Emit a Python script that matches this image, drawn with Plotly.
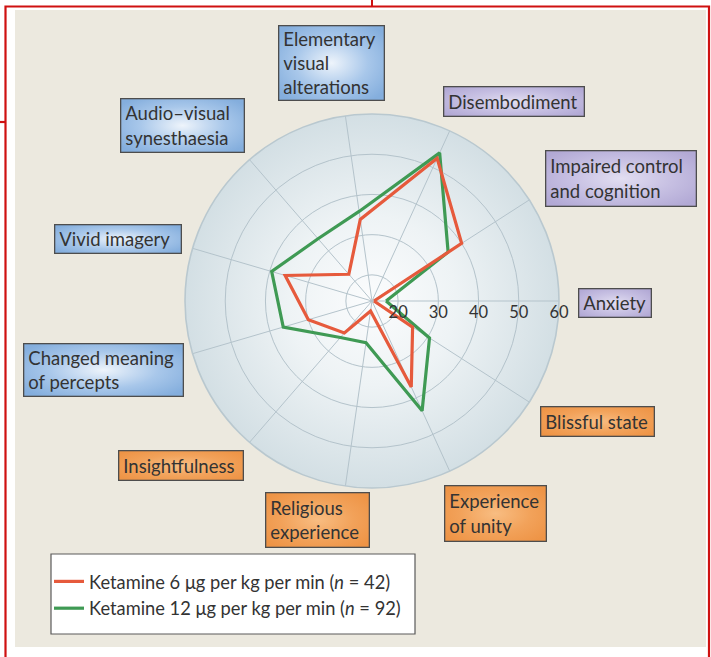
import base64
import plotly.graph_objects as go

# ---- data -------------------------------------------------------------
categories = [
    "Anxiety",
    "Impaired control and cognition",
    "Disembodiment",
    "Elementary visual alterations",
    "Audio–visual synesthaesia",
    "Vivid imagery",
    "Changed meaning of percepts",
    "Insightfulness",
    "Religious experience",
    "Experience of unity",
    "Blissful state",
]
ketamine_6 = [14, 40, 52.5, 34, 22.3, 36, 30, 24, 16, 37, 25.5]
ketamine_12 = [17, 36, 54, 36, 34, 39.5, 36.5, 25.5, 24, 43.5, 30.5]
series_names = [
    "Ketamine 6 μg per kg per min (<i>n</i> = 42)",
    "Ketamine 12 μg per kg per min (<i>n</i> = 92)",
]
radial_ticks = [20, 30, 40, 50, 60]
radial_range = [13.5, 60]

# label text (with line breaks) and colour group for every category
label_text = {
    "Anxiety": "Anxiety",
    "Impaired control and cognition": "Impaired control<br>and cognition",
    "Disembodiment": "Disembodiment",
    "Elementary visual alterations": "Elementary<br>visual<br>alterations",
    "Audio–visual synesthaesia": "Audio–visual<br>synesthaesia",
    "Vivid imagery": "Vivid imagery",
    "Changed meaning of percepts": "Changed meaning<br>of percepts",
    "Insightfulness": "Insightfulness",
    "Religious experience": "Religious<br>experience",
    "Experience of unity": "Experience<br>of unity",
    "Blissful state": "Blissful state",
}
label_group = {
    "Anxiety": "purple", "Impaired control and cognition": "purple",
    "Disembodiment": "purple",
    "Elementary visual alterations": "blue", "Audio–visual synesthaesia": "blue",
    "Vivid imagery": "blue", "Changed meaning of percepts": "blue",
    "Insightfulness": "orange", "Religious experience": "orange",
    "Experience of unity": "orange", "Blissful state": "orange",
}

# ---- layout geometry (pixels) ----------------------------------------
W, H = 711, 657
CX, CY, R = 372, 301, 187  # polar centre and radius

label_boxes = {  # x0, y0, x1, y1
    "Elementary visual alterations": (278, 25, 385, 101),
    "Disembodiment": (443, 86, 585, 117),
    "Impaired control and cognition": (545, 150, 697, 207),
    "Anxiety": (578, 288, 652, 318),
    "Blissful state": (540, 406, 655, 437),
    "Experience of unity": (444, 485, 547, 542),
    "Religious experience": (265, 492, 370, 548),
    "Insightfulness": (118, 450, 244, 481),
    "Changed meaning of percepts": (23, 343, 184, 397),
    "Vivid imagery": (54, 224, 182, 254),
    "Audio–visual synesthaesia": (120, 98, 245, 153),
}
gradients = {
    "blue": ("#eef4fb", "#a8c7ea", "#84aedd"),
    "purple": ("#e2def1", "#c6bfe2", "#b2a9d5"),
    "orange": ("#f8bd82", "#f2a25a", "#ee9446"),
}

RED = "#e65a3c"
GREEN = "#3f9a54"
GRID = "#b4c3cb"
TEXT = "#333333"
FONT = "Lato"


def fx(px):
    return px / W


def fy(py):
    return 1 - py / H


def svg_uri(svg):
    return "data:image/svg+xml;base64," + base64.b64encode(svg.encode()).decode()


def box_gradient(w, h, stops):
    c0, c1, c2 = stops
    svg = (
        f'<svg xmlns="http://www.w3.org/2000/svg" width="{w}" height="{h}" '
        f'viewBox="0 0 {w} {h}" preserveAspectRatio="none"><defs>'
        f'<radialGradient id="g" cx="50%" cy="50%" r="62%">'
        f'<stop offset="0" stop-color="{c0}"/><stop offset="0.55" stop-color="{c1}"/>'
        f'<stop offset="1" stop-color="{c2}"/></radialGradient></defs>'
        f'<rect width="{w}" height="{h}" fill="url(#g)"/></svg>'
    )
    return svg_uri(svg)


def disc_gradient(d):
    svg = (
        f'<svg xmlns="http://www.w3.org/2000/svg" width="{d}" height="{d}" '
        f'viewBox="0 0 {d} {d}"><defs>'
        f'<radialGradient id="g" cx="50%" cy="50%" r="50%">'
        f'<stop offset="0" stop-color="#fbfcfd"/><stop offset="0.45" stop-color="#eef3f5"/>'
        f'<stop offset="1" stop-color="#d3dfe4"/></radialGradient></defs>'
        f'<circle cx="{d/2}" cy="{d/2}" r="{d/2}" fill="url(#g)"/></svg>'
    )
    return svg_uri(svg)


# ---- traces -----------------------------------------------------------
def closed(values):
    return list(values) + [values[0]]


fig = go.Figure()
fig.add_trace(go.Scatterpolar(
    r=closed(ketamine_12), theta=closed(categories), mode="lines",
    line=dict(color=GREEN, width=3.2), name=series_names[1],
))
fig.add_trace(go.Scatterpolar(
    r=closed(ketamine_6), theta=closed(categories), mode="lines",
    line=dict(color=RED, width=3.2), name=series_names[0],
))

# ---- background images, label boxes ---------------------------------
images = [dict(
    source=disc_gradient(2 * R), xref="paper", yref="paper",
    x=fx(CX - R), y=fy(CY - R), sizex=2 * R / W, sizey=2 * R / H,
    xanchor="left", yanchor="top", sizing="stretch", layer="below",
)]
annotations = []
BW, PAD = 1.3, 4
for cat in categories:
    x0, y0, x1, y1 = label_boxes[cat]
    w, h = x1 - x0, y1 - y0
    images.append(dict(
        source=box_gradient(w, h, gradients[label_group[cat]]),
        xref="paper", yref="paper", x=fx(x0), y=fy(y0),
        sizex=w / W, sizey=h / H, xanchor="left", yanchor="top",
        sizing="stretch", layer="below",
    ))
    annotations.append(dict(
        text=label_text[cat], xref="paper", yref="paper", x=fx(x0), y=fy(y0),
        xanchor="left", yanchor="top", showarrow=False, align="left",
        width=w - 2 * (BW + PAD), height=h - 2 * (BW + PAD),
        bordercolor="#4d4d4d", borderwidth=BW, borderpad=PAD,
        bgcolor="rgba(0,0,0,0)", font=dict(family=FONT, size=18.5, color=TEXT),
    ))

# ---- page frame, legend box -----------------------------------------
shapes = [
    # white margins round the beige panel
    dict(type="rect", xref="paper", yref="paper", x0=0, x1=fx(15), y0=0, y1=1,
         fillcolor="white", line_width=0, layer="below"),
    dict(type="rect", xref="paper", yref="paper", x0=fx(706), x1=1, y0=0, y1=1,
         fillcolor="white", line_width=0, layer="below"),
    dict(type="rect", xref="paper", yref="paper", x0=0, x1=1, y0=fy(10), y1=1,
         fillcolor="white", line_width=0, layer="below"),
    dict(type="rect", xref="paper", yref="paper", x0=0, x1=1, y0=0, y1=fy(647),
         fillcolor="white", line_width=0, layer="below"),
    # legend box
    dict(type="rect", xref="paper", yref="paper", x0=fx(51), x1=fx(415),
         y0=fy(634), y1=fy(554), fillcolor="white",
         line=dict(color="#5a5a5a", width=1.2), layer="below"),
    # red frame
    dict(type="rect", xref="paper", yref="paper", x0=fx(5.5), x1=fx(709),
         y0=fy(665), y1=fy(6.5), line=dict(color="#cf1111", width=2.2),
         fillcolor="rgba(0,0,0,0)"),
    dict(type="line", xref="paper", yref="paper", x0=0, x1=fx(5.5),
         y0=fy(122), y1=fy(122), line=dict(color="#cf1111", width=2.2)),
    dict(type="line", xref="paper", yref="paper", x0=fx(372), x1=fx(372),
         y0=fy(0), y1=fy(6.5), line=dict(color="#cf1111", width=2)),
]

fig.update_layout(
    width=W, height=H,
    margin=dict(l=0, r=0, t=0, b=0),
    paper_bgcolor="#ece9df",
    plot_bgcolor="rgba(0,0,0,0)",
    font=dict(family=FONT, color=TEXT),
    polar=dict(
        domain=dict(x=[fx(CX - R), fx(CX + R)], y=[fy(CY + R), fy(CY - R)]),
        bgcolor="rgba(0,0,0,0)",
        radialaxis=dict(
            range=radial_range, tickvals=radial_ticks, angle=0,
            side="clockwise", showline=False, ticks="",
            gridcolor=GRID, gridwidth=1.3,
            tickfont=dict(family=FONT, size=16.5, color=TEXT),
        ),
        angularaxis=dict(
            direction="counterclockwise", rotation=0,
            showticklabels=False, ticks="",
            gridcolor=GRID, gridwidth=1.3,
            showline=True, linecolor="#b9c8cf", linewidth=1.6,
        ),
    ),
    showlegend=True,
    legend=dict(
        x=fx(49), y=fy(563), xanchor="left", yanchor="top",
        bgcolor="rgba(0,0,0,0)", borderwidth=0, traceorder="reversed",
        font=dict(family=FONT, size=18.3, color=TEXT), itemwidth=30,
    ),
    images=images,
    annotations=annotations,
    shapes=shapes,
)

fig.write_html("out.html")
